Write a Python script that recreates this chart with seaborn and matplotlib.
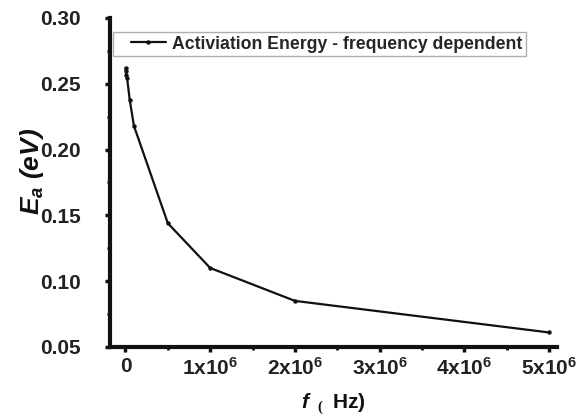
import numpy as np
import pandas as pd
import matplotlib
matplotlib.use("Agg")
import matplotlib.pyplot as plt
from matplotlib.ticker import MultipleLocator, FixedLocator
from matplotlib.lines import Line2D
from matplotlib.legend_handler import HandlerLine2D
import seaborn as sns

# Data
freq_hz = [1e3, 5e3, 1e4, 2e4, 5e4, 1e5, 5e5, 1e6, 2e6, 5e6]
energy_ev = [0.262, 0.260, 0.257, 0.254, 0.238, 0.218, 0.144, 0.110, 0.085, 0.061]
series_label = "Activiation Energy - frequency dependent"
x_ticks = [0, 1e6, 2e6, 3e6, 4e6, 5e6]
x_tick_labels = ["0", r"1x10$^{\mathbf{6}}$", r"2x10$^{\mathbf{6}}$", r"3x10$^{\mathbf{6}}$",
                 r"4x10$^{\mathbf{6}}$", r"5x10$^{\mathbf{6}}$"]
y_ticks = [0.05, 0.10, 0.15, 0.20, 0.25, 0.30]
y_tick_labels = ["0.05", "0.10", "0.15", "0.20", "0.25", "0.30"]

sns.set_theme(style="white")
plt.rcParams["font.family"] = ["Liberation Sans", "DejaVu Sans"]
plt.rcParams["font.weight"] = "bold"
plt.rcParams["mathtext.fontset"] = "custom"
plt.rcParams["mathtext.rm"] = "Liberation Serif"
plt.rcParams["mathtext.bf"] = "Liberation Sans:bold"
plt.rcParams["mathtext.it"] = "Liberation Sans:italic:bold"
plt.rcParams["mathtext.bfit"] = "Liberation Sans:italic:bold"

df = pd.DataFrame({"f": freq_hz, "E": energy_ev, "s": series_label})

fig = plt.figure(figsize=(5.8, 4.17), dpi=100)
ax = fig.add_axes([0.19, 0.168, 0.77, 0.789])

sns.lineplot(data=df, x="f", y="E", hue="s", palette=["#111111"], marker="o",
             markersize=3.2, markeredgewidth=0, linewidth=1.6, ax=ax, sort=True)

ax.set_xlim(-0.18e6, 5.09e6)
ax.set_ylim(0.05, 0.30)

ax.xaxis.set_major_locator(FixedLocator(x_ticks))
ax.set_xticklabels(x_tick_labels)
ax.xaxis.set_minor_locator(MultipleLocator(0.5e6))
ax.yaxis.set_major_locator(FixedLocator(y_ticks))
ax.set_yticklabels(y_tick_labels)
ax.yaxis.set_minor_locator(MultipleLocator(0.025))

for side in ["top", "right"]:
    ax.spines[side].set_visible(False)
for side in ["left", "bottom"]:
    ax.spines[side].set_linewidth(3.0)
    ax.spines[side].set_color("#111111")

ax.tick_params(axis="both", which="major", direction="out", length=3.5, width=2.5,
               colors="#111111", labelsize=15, labelcolor="#222222",
               left=True, bottom=True)
ax.tick_params(axis="both", which="minor", direction="out", length=2, width=2.0,
               colors="#111111", left=True, bottom=True)
ax.tick_params(axis="y", which="major", pad=17.5)
ax.tick_params(axis="x", which="major", pad=4)
for lab in ax.get_xticklabels() + ax.get_yticklabels():
    lab.set_fontweight("bold")

ax.set_xlabel(r"$\mathbfit{f}\enspace_{\mathrm{(}}\enspace$Hz)", fontsize=15, fontweight="bold",
              color="#111111", labelpad=9)
ax.set_ylabel(r"$\mathbfit{E_a}$ (eV)", fontsize=19, fontweight="bold", fontstyle="italic",
              color="#111111")
ax.yaxis.set_label_coords(-0.143, 0.535)


class PaddedLineHandler(HandlerLine2D):
    def create_artists(self, legend, orig_handle, xdescent, ydescent, width, height,
                       fontsize, trans):
        pad = 10
        return super().create_artists(legend, orig_handle, xdescent - pad, ydescent,
                                      width - pad, height, fontsize, trans)


leg = ax.legend(loc="upper left", bbox_to_anchor=(0.007, 0.957), frameon=True, fancybox=False,
                prop={"weight": "bold", "size": 12.7}, handlelength=2.8, borderpad=0.2,
                handletextpad=0.35, borderaxespad=0,
                handler_map={Line2D: PaddedLineHandler()})
leg.get_frame().set_edgecolor("#999999")
leg.get_frame().set_linewidth(1.0)
leg.set_title(None)

fig.savefig("out.png", dpi=100)
